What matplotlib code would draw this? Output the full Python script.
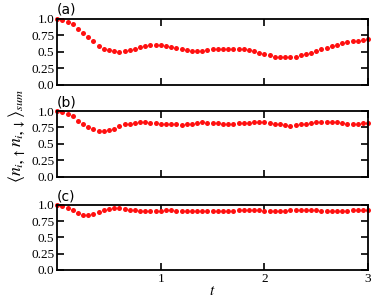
import numpy as np
import matplotlib
matplotlib.use("Agg")
import matplotlib.pyplot as plt
from matplotlib.ticker import FixedLocator, FixedFormatter

plt.rcParams['font.family'] = ['Liberation Serif', 'DejaVu Serif']
plt.rcParams['mathtext.fontset'] = 'stix'

# time grid, dt = 0.05
t = [round(0.05 * k, 2) for k in range(61)]

# panel (a)
val_a = [1.00, 0.99, 0.96, 0.92, 0.85, 0.78, 0.72, 0.66, 0.59, 0.54,
         0.53, 0.51, 0.50, 0.51, 0.53, 0.55, 0.57, 0.59, 0.60, 0.61,
         0.60, 0.59, 0.57, 0.56, 0.54, 0.53, 0.52, 0.52, 0.52, 0.53,
         0.54, 0.55, 0.55, 0.55, 0.55, 0.55, 0.54, 0.53, 0.51, 0.49,
         0.47, 0.45, 0.43, 0.43, 0.43, 0.43, 0.43, 0.45, 0.47, 0.49,
         0.51, 0.54, 0.56, 0.59, 0.61, 0.63, 0.65, 0.66, 0.67, 0.68,
         0.69]

# panel (b)
val_b = [1.00, 0.99, 0.96, 0.92, 0.85, 0.80, 0.75, 0.72, 0.70, 0.70,
         0.71, 0.73, 0.77, 0.80, 0.81, 0.82, 0.83, 0.83, 0.82, 0.82,
         0.81, 0.80, 0.80, 0.80, 0.79, 0.80, 0.81, 0.82, 0.83, 0.82,
         0.82, 0.82, 0.81, 0.81, 0.81, 0.82, 0.82, 0.82, 0.83, 0.83,
         0.83, 0.82, 0.81, 0.80, 0.79, 0.78, 0.79, 0.80, 0.81, 0.82,
         0.83, 0.84, 0.84, 0.84, 0.83, 0.82, 0.81, 0.81, 0.81, 0.82,
         0.82]

# panel (c)
val_c = [1.00, 0.99, 0.96, 0.92, 0.88, 0.85, 0.85, 0.86, 0.89, 0.92,
         0.94, 0.95, 0.95, 0.94, 0.93, 0.92, 0.91, 0.90, 0.90, 0.91,
         0.91, 0.92, 0.92, 0.91, 0.91, 0.90, 0.90, 0.90, 0.91, 0.91,
         0.90, 0.90, 0.91, 0.91, 0.91, 0.92, 0.92, 0.92, 0.92, 0.92,
         0.91, 0.91, 0.91, 0.91, 0.91, 0.92, 0.92, 0.92, 0.93, 0.93,
         0.92, 0.91, 0.91, 0.90, 0.90, 0.90, 0.91, 0.92, 0.93, 0.93,
         0.93]

labels = ['(a)', '(b)', '(c)']
yticks = [0.0, 0.25, 0.5, 0.75, 1.0]
yticklabels = ['0.0', '0.25', '0.5', '0.75', '1.0']

fig = plt.figure(figsize=(3.81, 3.01), dpi=100)
boxes = [[0.150, 0.718, 0.816, 0.219],
         [0.150, 0.413, 0.816, 0.218],
         [0.150, 0.103, 0.816, 0.216]]

for box, vals, lab in zip(boxes, [val_a, val_b, val_c], labels):
    ax = fig.add_axes(box)
    ax.plot(t, vals, 'o', color='#ff1010', ms=3.6, mec='none', clip_on=False)
    ax.set_xlim(0, 3)
    ax.set_ylim(0, 1)
    ax.yaxis.set_major_locator(FixedLocator(yticks))
    ax.yaxis.set_major_formatter(FixedFormatter(yticklabels))
    ax.xaxis.set_major_locator(FixedLocator([1, 2, 3]))
    ax.tick_params(direction='in', top=True, right=True, length=5, width=1.2,
                   labelsize=9.5, pad=2)
    for s in ax.spines.values():
        s.set_linewidth(1.3)
    if lab != '(c)':
        ax.set_xticklabels([])
    ax.text(0.0, 1.03, lab, transform=ax.transAxes, fontsize=10,
            family='DejaVu Sans', ha='left', va='bottom')
    if lab == '(c)':
        ax.set_xlabel(r'$t$', fontsize=11, labelpad=0)

fig.text(0.045, 0.55, r'$\mathbf{\left\langle \mathit{n}_{\mathit{i},\uparrow}\mathit{n}_{\mathit{i},\downarrow}\right\rangle_{\mathit{sum}}}$',
         rotation=90, fontsize=12.8, ha='center', va='center')

fig.savefig('out.png', dpi=100)
